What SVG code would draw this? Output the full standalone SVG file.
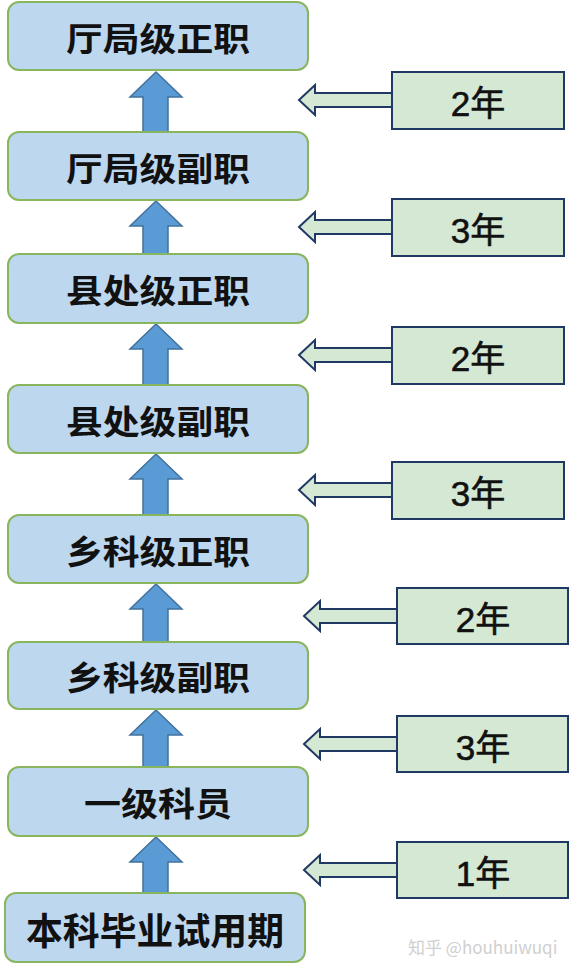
<svg xmlns="http://www.w3.org/2000/svg" width="570" height="973" viewBox="0 0 570 973">
<style>
.lvl{fill:#BDD7EE;stroke:#8AB55F;stroke-width:2}
.lt{font-family:"Noto Sans CJK SC","Noto Sans",sans-serif;font-size:33px;font-weight:bold;fill:#111;text-anchor:middle}
.yr{fill:#D5E8D4;stroke:#1F3864;stroke-width:2}
.yt{font-family:"Liberation Sans","Noto Sans CJK SC",sans-serif;font-size:35px;fill:#111;text-anchor:middle;stroke:#111;stroke-width:0.6}
.up{fill:#5B9BD5;stroke:#41719C;stroke-width:1.5;stroke-linejoin:miter}
.lf{fill:#D5E8D4;stroke:#1F3864;stroke-width:2;stroke-linejoin:miter}
.wm{font-family:"Noto Sans CJK SC","Noto Sans",sans-serif;font-size:17px;fill:#CFCFCF}
</style>
<rect width="570" height="973" fill="#FFFFFF"/>
<g id="connectors">
<path class="up" d="M156,72 L182,97 L168,97 L168,132 L143,132 L143,97 L130,97 Z"/>
<path class="up" d="M156,201 L182,226 L168,226 L168,255 L143,255 L143,226 L130,226 Z"/>
<path class="up" d="M156,324 L182,349 L168,349 L168,386 L143,386 L143,349 L130,349 Z"/>
<path class="up" d="M156,454 L182,479 L168,479 L168,516 L143,516 L143,479 L130,479 Z"/>
<path class="up" d="M156,584 L182,609 L168,609 L168,643 L143,643 L143,609 L130,609 Z"/>
<path class="up" d="M156,710 L182,735 L168,735 L168,768 L143,768 L143,735 L130,735 Z"/>
<path class="up" d="M156,837 L182,862 L168,862 L168,894 L143,894 L143,862 L130,862 Z"/>
<path class="lf" d="M299,100 L315,85 L315,93 L395,93 L395,107 L315,107 L315,115 Z"/>
<path class="lf" d="M299,227 L315,212 L315,220 L395,220 L395,234 L315,234 L315,242 Z"/>
<path class="lf" d="M299,355 L315,340 L315,348 L395,348 L395,362 L315,362 L315,370 Z"/>
<path class="lf" d="M299,490 L315,475 L315,483 L395,483 L395,497 L315,497 L315,505 Z"/>
<path class="lf" d="M304,616 L320,601 L320,609 L400,609 L400,623 L320,623 L320,631 Z"/>
<path class="lf" d="M304,744 L320,729 L320,737 L400,737 L400,751 L320,751 L320,759 Z"/>
<path class="lf" d="M304,870 L320,855 L320,863 L400,863 L400,877 L320,877 L320,885 Z"/>
</g>
<g id="n1"><rect class="lvl" x="8" y="2" width="300" height="68" rx="11"/><text class="lt" x="158" y="51" textLength="184" lengthAdjust="spacingAndGlyphs">厅局级正职</text></g>
<g id="n2"><rect class="lvl" x="8" y="132" width="300" height="68" rx="11"/><text class="lt" x="158" y="181" textLength="184" lengthAdjust="spacingAndGlyphs">厅局级副职</text></g>
<g id="n3"><rect class="lvl" x="8" y="254" width="300" height="69" rx="11"/><text class="lt" x="158" y="303" textLength="184" lengthAdjust="spacingAndGlyphs">县处级正职</text></g>
<g id="n4"><rect class="lvl" x="8" y="385" width="300" height="68" rx="11"/><text class="lt" x="158" y="434" textLength="184" lengthAdjust="spacingAndGlyphs">县处级副职</text></g>
<g id="n5"><rect class="lvl" x="8" y="515" width="300" height="68" rx="11"/><text class="lt" x="158" y="564" textLength="184" lengthAdjust="spacingAndGlyphs">乡科级正职</text></g>
<g id="n6"><rect class="lvl" x="8" y="642" width="300" height="67" rx="11"/><text class="lt" x="158" y="690" textLength="184" lengthAdjust="spacingAndGlyphs">乡科级副职</text></g>
<g id="n7"><rect class="lvl" x="8" y="767" width="300" height="69" rx="11"/><text class="lt" x="158" y="816" textLength="148" lengthAdjust="spacingAndGlyphs">一级科员</text></g>
<g id="n8"><rect class="lvl" x="5" y="893" width="300" height="69" rx="11"/><text class="lt" x="155" y="945" style="font-size:37px" textLength="258" lengthAdjust="spacingAndGlyphs">本科毕业试用期</text></g>
<g id="y1"><rect class="yr" x="392" y="72" width="172" height="57"/><text class="yt" x="478" y="116">2年</text></g>
<g id="y2"><rect class="yr" x="392" y="199" width="172" height="57"/><text class="yt" x="478" y="243">3年</text></g>
<g id="y3"><rect class="yr" x="392" y="327" width="172" height="57"/><text class="yt" x="478" y="371">2年</text></g>
<g id="y4"><rect class="yr" x="392" y="462" width="172" height="57"/><text class="yt" x="478" y="506">3年</text></g>
<g id="y5"><rect class="yr" x="397" y="588" width="171" height="56"/><text class="yt" x="483" y="632">2年</text></g>
<g id="y6"><rect class="yr" x="397" y="716" width="171" height="56"/><text class="yt" x="483" y="760">3年</text></g>
<g id="y7"><rect class="yr" x="397" y="842" width="171" height="56"/><text class="yt" x="483" y="886">1年</text></g>
<text class="wm" x="408" y="954">知乎 @houhuiwuqi</text>
</svg>
